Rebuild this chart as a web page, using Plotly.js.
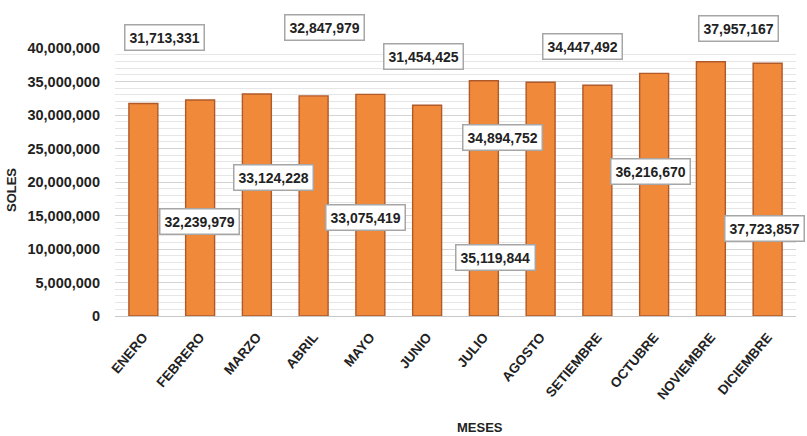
<!DOCTYPE html>
<html>
<head>
<meta charset="utf-8">
<script src="https://cdn.plot.ly/plotly-3.0.1.min.js"></script>
<style>html,body{margin:0;padding:0;background:#fff;}</style>
</head>
<body>
<div id="chart" style="width:807px;height:436px;"></div>
<script>
// Data
const meses = ["ENERO","FEBRERO","MARZO","ABRIL","MAYO","JUNIO","JULIO","AGOSTO","SETIEMBRE","OCTUBRE","NOVIEMBRE","DICIEMBRE"];
const soles = [31713331, 32239979, 33124228, 32847979, 33075419, 31454425, 35119844, 34894752, 34447492, 36216670, 37957167, 37723857];
const yTicks = [0, 5000000, 10000000, 15000000, 20000000, 25000000, 30000000, 35000000, 40000000];
const yTickText = ["0","5,000,000","10,000,000","15,000,000","20,000,000","25,000,000","30,000,000","35,000,000","40,000,000"];

// Data-label placement (labels were dragged around in the reference), in axis units
const labelX = [0.37, 0.99, 2.29, 3.20, 3.91, 4.93, 6.20, 6.32, 7.73, 8.93, 10.48, 10.95];
const labelY = [41.6e6, 14.05e6, 20.74e6, 43.05e6, 14.65e6, 38.74e6, 8.7e6, 26.7e6, 40.2e6, 21.6e6, 42.9e6, 13.0e6];

const yMax = 40000000;
const xRange = [-0.5, meses.length - 0.5];
const fmt = v => v.toLocaleString("en-US");
const font = "Liberation Sans, Arial, sans-serif";

const W = 807, H = 436, mL = 115, mR = 10.5, mT = 47.5, mB = 119.5;
const pw = W - mL - mR, ph = H - mT - mB;

// labels converted to paper coords so those above the axis top are still drawn
const annotations = soles.map((v, i) => ({
  x: (labelX[i] - xRange[0]) / (xRange[1] - xRange[0]),
  y: labelY[i] / yMax,
  xref: "paper", yref: "paper", xanchor: "center", yanchor: "middle",
  text: fmt(v), showarrow: false,
  font: {family: font, size: 14, color: "#222", weight: "bold"},
  bgcolor: "#ffffff", bordercolor: "#a6a6a6", borderwidth: 1.5, borderpad: 4
}));
annotations.push({
  x: (480 - mL) / pw, y: (H - 428 - mB) / ph, xref: "paper", yref: "paper",
  xanchor: "center", yanchor: "middle",
  text: "MESES", showarrow: false,
  font: {family: font, size: 13, color: "#222", weight: "bold"}
});
annotations.push({
  x: (12 - mL) / pw, y: (H - 190 - mB) / ph, xref: "paper", yref: "paper",
  xanchor: "center", yanchor: "middle",
  text: "SOLES", showarrow: false, textangle: -90,
  font: {family: font, size: 13, color: "#222", weight: "bold"}
});

const trace = {
  type: "bar", x: meses, y: soles,
  marker: {color: "#F08A3A", line: {color: "#B0592A", width: 1.4}},
  hoverinfo: "x+y"
};

const layout = {
  width: W, height: H,
  margin: {l: mL, r: mR, t: mT, b: mB, pad: 0},
  paper_bgcolor: "#ffffff", plot_bgcolor: "#ffffff",
  bargap: 0.49,
  showlegend: false,
  xaxis: {
    type: "category", tickangle: -50, range: xRange,
    tickfont: {family: font, size: 13.5, color: "#222", weight: "bold"},
    showgrid: false, showline: true, linecolor: "#c8c8c8", linewidth: 1,
    ticks: "", ticklabelstandoff: 7, automargin: false
  },
  yaxis: {
    range: [0, yMax], tickvals: yTicks, ticktext: yTickText,
    tickfont: {family: font, size: 14.5, color: "#222", weight: "bold"},
    showgrid: true, gridcolor: "#d4d4d4", gridwidth: 1,
    minor: {dtick: 1000000, showgrid: true, gridcolor: "#e6e6e6", gridwidth: 1},
    zeroline: false, showline: false, ticks: "", ticklabelstandoff: 14,
    automargin: false
  },
  annotations: annotations
};

Plotly.newPlot("chart", [trace], layout, {displayModeBar: false, staticPlot: true});
</script>
</body>
</html>
